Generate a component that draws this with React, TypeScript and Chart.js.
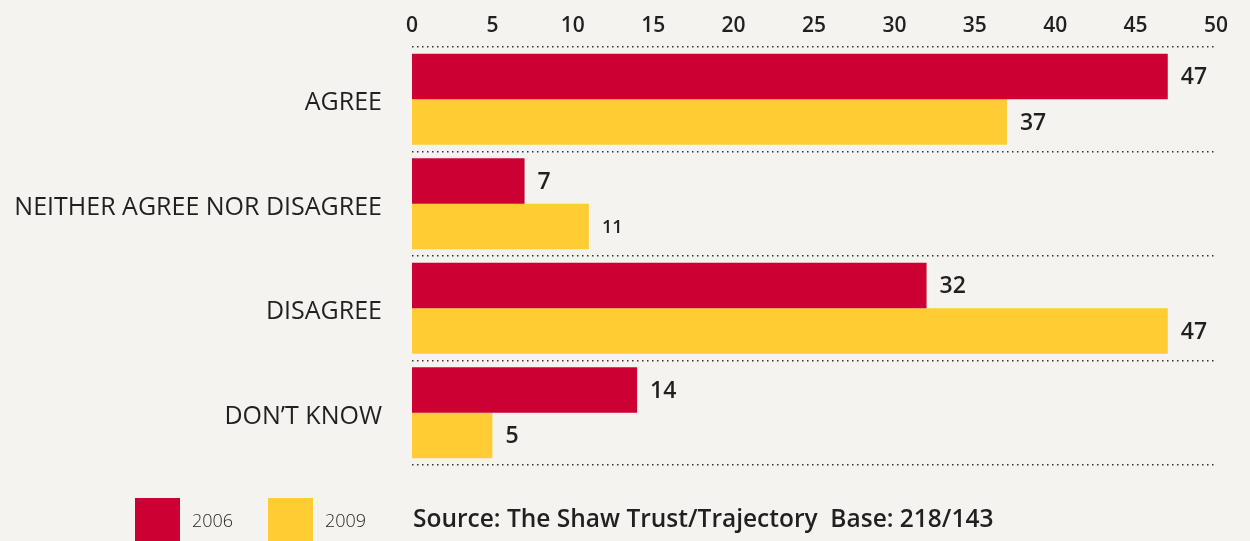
import React, { useEffect, useRef } from "react";
import { Chart, registerables } from "chart.js";

Chart.register(...registerables);

const categories = ["AGREE", "NEITHER AGREE NOR DISAGREE", "DISAGREE", "DON\u2019T KNOW"];
const series2006 = [47, 7, 32, 14];
const series2009 = [37, 11, 47, 5];
const seriesNames = ["2006", "2009"];
const xTicks = [0, 5, 10, 15, 20, 25, 30, 35, 40, 45, 50];
const sourceText = "Source: The Shaw Trust/Trajectory  Base: 218/143";

const RED = "#cc0033";
const YELLOW = "#ffcc33";
const BG = "#f4f3ef";

const valueLabels = {
  id: "valueLabels",
  afterDatasetsDraw(chart: any) {
    const ctx = chart.ctx;
    ctx.save();
    ctx.fillStyle = "#231f20";
    ctx.textBaseline = "middle";
    ctx.textAlign = "left";
    chart.data.datasets.forEach((ds: any, di: number) => {
      const meta = chart.getDatasetMeta(di);
      meta.data.forEach((bar: any, i: number) => {
        const v = ds.data[i];
        const small = v >= 10 && v < 12;
        ctx.font = `600 ${small ? 18 : 23}px "Open Sans"`;
        ctx.fillText(String(v), bar.x + 13, bar.y + 1);
      });
    });
    ctx.restore();
  },
};

export default function App() {
  const ref = useRef<HTMLCanvasElement>(null);
  useEffect(() => {
    if (!ref.current) return;
    const chart = new Chart(ref.current, {
      type: "bar",
      data: {
        labels: categories,
        datasets: [
          { label: seriesNames[0], data: series2006, backgroundColor: RED, categoryPercentage: 0.87, barPercentage: 1.0 },
          { label: seriesNames[1], data: series2009, backgroundColor: YELLOW, categoryPercentage: 0.87, barPercentage: 1.0 },
        ],
      },
      options: {
        indexAxis: "y",
        animation: false,
        responsive: false,
        maintainAspectRatio: false,
        layout: { padding: { left: 0, right: 34, top: 0, bottom: 13 } },
        plugins: { legend: { display: false }, tooltip: { enabled: false } },
        scales: {
          x: {
            position: "top",
            min: 0,
            max: 50,
            afterBuildTicks: (s: any) => {
              s.ticks = xTicks.map((v) => ({ value: v }));
            },
            afterFit: (s: any) => {
              s.height = 47;
            },
            grid: { display: false, drawTicks: false },
            border: { display: false },
            ticks: {
              padding: 8,
              color: "#231f20",
              font: { family: "Open Sans", size: 21, weight: 600 },
            },
          },
          y: {
            afterFit: (s: any) => {
              s.width = 412;
            },
            grid: {
              offset: true,
              drawTicks: false,
              color: "#333",
              lineWidth: 1.5,
            },
            border: { display: false, dash: [1.5, 3.5] } as any,
            ticks: {
              padding: 30,
              labelOffset: 4,
              color: "#231f20",
              font: { family: "Open Sans", size: 25, weight: 400 },
            },
          },
        },
      },
      plugins: [valueLabels],
    } as any);
    return () => chart.destroy();
  }, []);

  const legendItem = (color: string, label: string, left: number) => (
    <>
      <div style={{ position: "absolute", left, top: 498, width: 45, height: 43, background: color }} />
      <div
        style={{
          position: "absolute",
          left: left + 57,
          top: 506,
          fontFamily: "Open Sans",
          fontWeight: 300,
          fontSize: 18,
          color: "#231f20",
          lineHeight: "28px",
        }}
      >
        {label}
      </div>
    </>
  );

  return (
    <div style={{ position: "absolute", left: 0, top: 0, width: 1250, height: 541, background: BG, overflow: "hidden" }}>
      <canvas ref={ref} width={1250} height={510} style={{ position: "absolute", left: 0, top: 0 }} />
      {legendItem(RED, seriesNames[0], 135)}
      {legendItem(YELLOW, seriesNames[1], 268)}
      <div
        style={{
          position: "absolute",
          left: 413,
          top: 502,
          fontFamily: "Open Sans",
          fontWeight: 600,
          fontSize: 24.5,
          color: "#231f20",
          lineHeight: "32px",
          whiteSpace: "pre",
        }}
      >
        {sourceText}
      </div>
    </div>
  );
}
